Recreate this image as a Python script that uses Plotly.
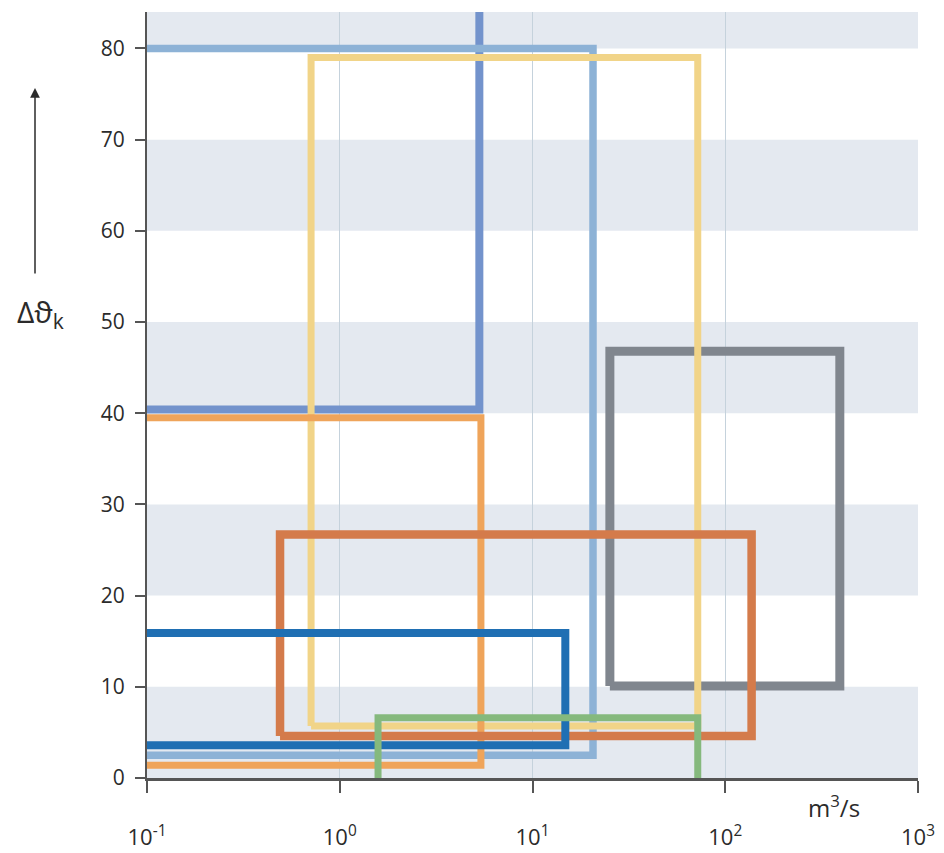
import plotly.graph_objects as go

# Data
names = ["medium blue", "light blue", "grey", "yellow", "orange", "terracotta", "dark blue", "green"]
x_lo = [0.08, 0.08, 25.2, 0.71, 0.08, 0.49, 0.08, 1.58]
x_hi = [5.3, 20.6, 393, 72.0, 5.4, 137, 14.8, 72.0]
y_lo = [40.4, 2.5, 10.1, 5.7, 1.4, 4.6, 3.6, -2]
y_hi = [95, 80.0, 46.8, 79.0, 39.5, 26.7, 15.9, 6.6]

band_lo = [0, 20, 40, 60, 80]
band_hi = [10, 30, 50, 70, 90]

y_ticks = [0, 10, 20, 30, 40, 50, 60, 70, 80]
x_tickvals = [0.1, 1, 10, 100, 1000]
x_ticktext = ["10<sup>-1</sup>", "10<sup>0</sup>", "10<sup>1</sup>", "10<sup>2</sup>", "10<sup>3</sup>"]

# Styles
colors = ["#7393cc", "#8db2d6", "#80868e", "#f1d488", "#efa45a", "#d47b4b", "#1f6fb3", "#85b97d"]
widths = [8, 7.5, 9, 7, 7, 8.5, 8, 7]

fig = go.Figure()
for n, a, b, c, d, col, w in zip(names, x_lo, x_hi, y_lo, y_hi, colors, widths):
    fig.add_trace(go.Scatter(
        x=[a, b, b, a, a], y=[c, c, d, d, c], mode="lines", name=n,
        line=dict(color=col, width=w), hoverinfo="skip", showlegend=False))

for lo, hi in zip(band_lo, band_hi):
    fig.add_shape(type="rect", xref="paper", yref="y", x0=0, x1=1, y0=lo, y1=hi,
                  fillcolor="#e4e9f0", line=dict(width=0), layer="below")

# plot area in page: x 147..918, y 12..778 (page body has an 8px margin)
fig.update_layout(
    width=944, height=853,
    margin=dict(l=139, r=34, t=4, b=83),
    paper_bgcolor="white", plot_bgcolor="white",
    font=dict(family="Open Sans", size=21, color="#2b2b2b"),
    xaxis=dict(type="log", range=[-1, 3], tickvals=x_tickvals, ticktext=x_ticktext,
               showgrid=True, gridcolor="#c5d2dc", gridwidth=1,
               showline=True, linecolor="#555555", linewidth=3,
               ticks="outside", ticklen=12, tickwidth=2, tickcolor="#555555",
               ticklabelstandoff=26, zeroline=False, tickfont=dict(size=22)),
    yaxis=dict(range=[0, 84], tickvals=y_ticks, showgrid=False,
               showline=True, linecolor="#555555", linewidth=2,
               ticks="outside", ticklen=10, tickwidth=2, tickcolor="#555555",
               ticklabelstandoff=6, zeroline=False),
    annotations=[
        dict(text="m<sup>3</sup>/s", xref="paper", yref="paper", x=(834 - 147) / 771, y=(778 - 806) / 766,
             showarrow=False, font=dict(size=24, color="#2b2b2b"), xanchor="center", yanchor="middle"),
        dict(text="Δϑ<sub>k</sub>", xref="paper", yref="paper", x=(40 - 147) / 771, y=(778 - 313) / 766,
             showarrow=False, font=dict(size=30, color="#2b2b2b"), xanchor="center", yanchor="middle"),
        dict(text="", xref="paper", yref="paper", x=(35 - 147) / 771, y=(778 - 88) / 766,
             showarrow=True, arrowhead=2, arrowsize=1.3, arrowwidth=1.5, arrowcolor="#2b2b2b",
             ax=0, ay=187),
    ],
)

fig.write_html("out.html")
